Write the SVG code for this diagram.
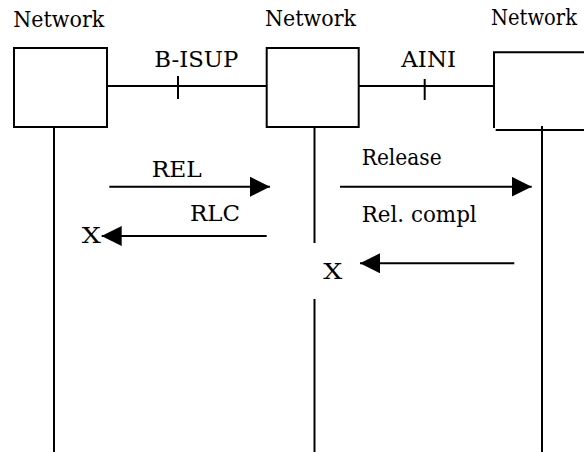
<svg xmlns="http://www.w3.org/2000/svg" width="584" height="452" viewBox="0 0 584 452">
<style>
.ln{stroke:#000;stroke-width:2;fill:none}
.t{font-family:'DejaVu Serif','Liberation Serif',serif;font-size:22px;fill:#000}
</style>
<defs>
<marker id="ah" viewBox="0 0 20 20" refX="20" refY="10" markerWidth="20" markerHeight="20" markerUnits="userSpaceOnUse" orient="auto">
<path d="M0,0 L20,10 L0,20 z" fill="#000"/>
</marker>
</defs>
<rect width="584" height="452" fill="#fff"/>
<g id="node-network-1">
<text class="t" x="13.3" y="26.5" textLength="91" lengthAdjust="spacingAndGlyphs">Network</text>
<rect class="ln" x="14" y="48" width="93" height="79"/>
<line class="ln" x1="54" y1="127" x2="54" y2="452"/>
</g>
<g id="node-network-2">
<text class="t" x="265" y="26" textLength="91" lengthAdjust="spacingAndGlyphs">Network</text>
<rect class="ln" x="266.7" y="48" width="92" height="79"/>
<line class="ln" x1="314.5" y1="127" x2="314.5" y2="243"/>
<line class="ln" x1="314.5" y1="299" x2="314.5" y2="452"/>
</g>
<g id="node-network-3">
<text class="t" x="491" y="25" textLength="86" lengthAdjust="spacingAndGlyphs">Network</text>
<path class="ln" d="M494,128 V52.3 H585"/>
<path class="ln" d="M495.7,130 H585"/>
<line class="ln" x1="542" y1="126" x2="542" y2="452"/>
</g>
<g id="connectors">
<line class="ln" x1="107" y1="86" x2="266.7" y2="86"/>
<line class="ln" x1="178" y1="76" x2="178" y2="99"/>
<text class="t" x="154.3" y="66.7" textLength="84" lengthAdjust="spacingAndGlyphs">B-ISUP</text>
<line class="ln" x1="358.7" y1="86" x2="494" y2="86"/>
<line class="ln" x1="424.7" y1="79" x2="424.7" y2="100"/>
<text class="t" x="401.3" y="66.7" textLength="54.7" lengthAdjust="spacingAndGlyphs">AINI</text>
<line class="ln" x1="109.3" y1="186.7" x2="270" y2="186.7" marker-end="url(#ah)"/>
<text class="t" x="151.7" y="176.7" textLength="50" lengthAdjust="spacingAndGlyphs">REL</text>
<line class="ln" x1="266.7" y1="236" x2="101.7" y2="236" marker-end="url(#ah)"/>
<text class="t" x="190" y="220.7" textLength="50" lengthAdjust="spacingAndGlyphs">RLC</text>
<text class="t" x="81.7" y="243.3" textLength="19" lengthAdjust="spacingAndGlyphs">X</text>
<line class="ln" x1="340" y1="186.7" x2="531.7" y2="186.7" marker-end="url(#ah)"/>
<text class="t" x="361.7" y="165" textLength="80" lengthAdjust="spacingAndGlyphs">Release</text>
<text class="t" x="361.7" y="222" textLength="115" lengthAdjust="spacingAndGlyphs">Rel. compl</text>
<line class="ln" x1="514.3" y1="263.3" x2="360" y2="263.3" marker-end="url(#ah)"/>
<text class="t" x="323.3" y="279.3" textLength="19" lengthAdjust="spacingAndGlyphs">X</text>
</g>
</svg>
